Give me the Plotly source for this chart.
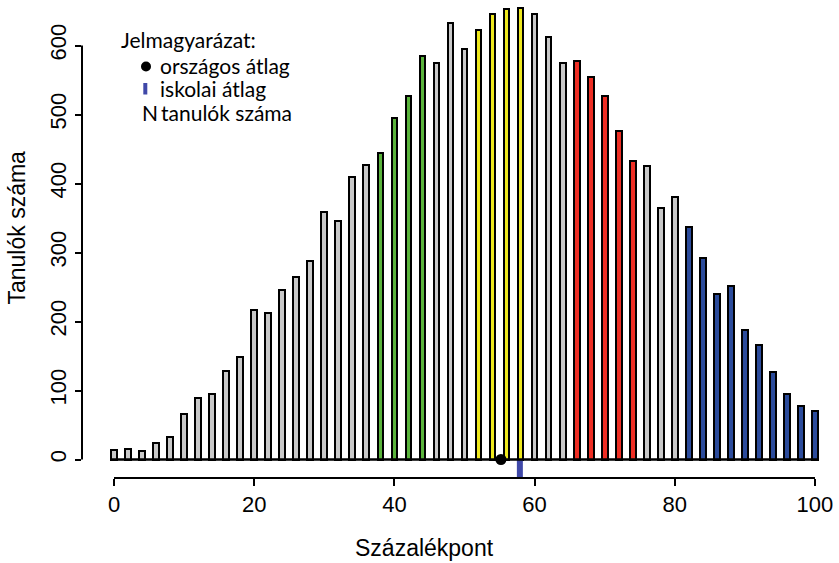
import plotly.graph_objects as go

# ---- data ----
score = list(range(0, 101, 2))
students = [14, 15, 12, 24, 33, 66, 89, 95, 129, 149,
            216, 212, 245, 264, 287, 358, 346, 409, 427, 444,
            495, 527, 585, 574, 633, 595, 623, 646, 653, 655,
            646, 613, 574, 578, 555, 527, 476, 432, 426, 365,
            380, 337, 292, 240, 251, 187, 166, 127, 95, 78,
            70]
band = (['gray'] * 19 + ['green'] * 4 + ['gray'] * 3 + ['yellow'] * 4 +
        ['gray'] * 3 + ['red'] * 5 + ['gray'] * 3 + ['blue'] * 10)
national_avg = 55.2
school_avg = 57.9
y_ticks = [0, 100, 200, 300, 400, 500, 600]
x_ticks = [0, 20, 40, 60, 80, 100]
legend_title = "Jelmagyarázat:"
legend_items = ["országos átlag", "iskolai átlag", "tanulók száma"]

# ---- styling ----
palette = {'gray': '#c8c8c8', 'green': '#5ab43c', 'yellow': '#eee81e',
           'red': '#ee2e24', 'blue': '#2c4c9c'}
school_color = '#3f48a8'
W, H = 839, 563
ml, mr, mt, mb = 82, 10, 5, 85
x_range = [-4.565, 102.0]
y_range = [-26.8, 658.7]
bar_w = 0.82
plot_w = W - ml - mr
plot_h = H - mt - mb


def px(xp):
    return (xp - ml) / plot_w


def py(yp):
    return (H - mb - yp) / plot_h


arial = "Liberation Sans, Arial, sans-serif"
myriad = "Lato, Open Sans, sans-serif"

fig = go.Figure()
fig.add_trace(go.Bar(
    x=score, y=students, width=bar_w,
    marker=dict(color=[palette[b] for b in band],
                line=dict(color='black', width=2)),
    hoverinfo='x+y'))
fig.add_trace(go.Scatter(
    x=[school_avg, school_avg], y=[0, y_range[0]], mode='lines',
    line=dict(color=school_color, width=6), cliponaxis=False))
fig.add_trace(go.Scatter(
    x=[national_avg], y=[0], mode='markers',
    marker=dict(color='black', size=11), cliponaxis=False))

shapes = [
    # baseline under the bars
    dict(type='line', xref='x', yref='y', x0=min(score) - bar_w / 2,
         x1=max(score) + bar_w / 2, y0=0, y1=0,
         line=dict(color='black', width=2.5)),
    # y axis line (R style: from first to last tick)
    dict(type='line', xref='paper', yref='y', x0=0, x1=0,
         y0=y_ticks[0], y1=y_ticks[-1], line=dict(color='black', width=2)),
    # x axis line
    dict(type='line', xref='x', yref='paper', x0=x_ticks[0], x1=x_ticks[-1],
         y0=0, y1=0, line=dict(color='black', width=2)),
    # legend glyphs
    dict(type='circle', xref='paper', yref='paper', x0=px(141), x1=px(151),
         y0=py(61.5), y1=py(71.5), fillcolor='black', line=dict(width=0)),
    dict(type='rect', xref='paper', yref='paper', x0=px(143.3), x1=px(147.3),
         y0=py(83), y1=py(94.5), fillcolor=school_color, line=dict(width=0)),
]

leg_font = dict(family=myriad, size=21, color='black')
leg_y = [40, 65, 88.6, 112.2]
annotations = [
    dict(text="Tanulók száma", xref='paper', yref='paper', x=px(16.5), y=py(228),
         textangle=-90, showarrow=False, xanchor='center', yanchor='middle',
         font=dict(family=arial, size=23, color='black')),
    dict(text="Százalékpont", xref='paper', yref='paper', x=px(424.5), y=py(548),
         showarrow=False, xanchor='center', yanchor='middle',
         font=dict(family=arial, size=23, color='black')),
    dict(text=legend_title, xref='paper', yref='paper', x=px(120), y=py(leg_y[0]),
         showarrow=False, xanchor='left', yanchor='middle', borderpad=0,
         font=leg_font),
    dict(text=legend_items[0], xref='paper', yref='paper', x=px(159), y=py(leg_y[1]),
         showarrow=False, xanchor='left', yanchor='middle', borderpad=0,
         font=leg_font),
    dict(text=legend_items[1], xref='paper', yref='paper', x=px(159), y=py(leg_y[2]),
         showarrow=False, xanchor='left', yanchor='middle', borderpad=0,
         font=leg_font),
    dict(text="N", xref='paper', yref='paper', x=px(140.5), y=py(leg_y[3]),
         showarrow=False, xanchor='left', yanchor='middle', borderpad=0,
         font=leg_font),
    dict(text=legend_items[2], xref='paper', yref='paper', x=px(160), y=py(leg_y[3]),
         showarrow=False, xanchor='left', yanchor='middle', borderpad=0,
         font=leg_font),
]

fig.update_layout(
    width=W, height=H,
    margin=dict(l=ml, r=mr, t=mt, b=mb, pad=0),
    paper_bgcolor='white', plot_bgcolor='white',
    showlegend=False, bargap=0,
    shapes=shapes, annotations=annotations,
    xaxis=dict(range=x_range, tickvals=x_ticks, ticks='outside', ticklen=7,
               tickwidth=2, tickcolor='black', showline=False, showgrid=False,
               zeroline=False, tickfont=dict(family=arial, size=22, color='black')),
    yaxis=dict(range=y_range, tickvals=y_ticks, ticks='outside', ticklen=6,
               tickwidth=2, tickcolor='black', showline=False, showgrid=False,
               zeroline=False, tickangle=-90,
               tickfont=dict(family=arial, size=22, color='black')),
)

fig.write_html("out.html",
               config=dict(displayModeBar=False),
               post_script="document.body.style.margin='0';"
                           "document.body.style.overflow='hidden';")
